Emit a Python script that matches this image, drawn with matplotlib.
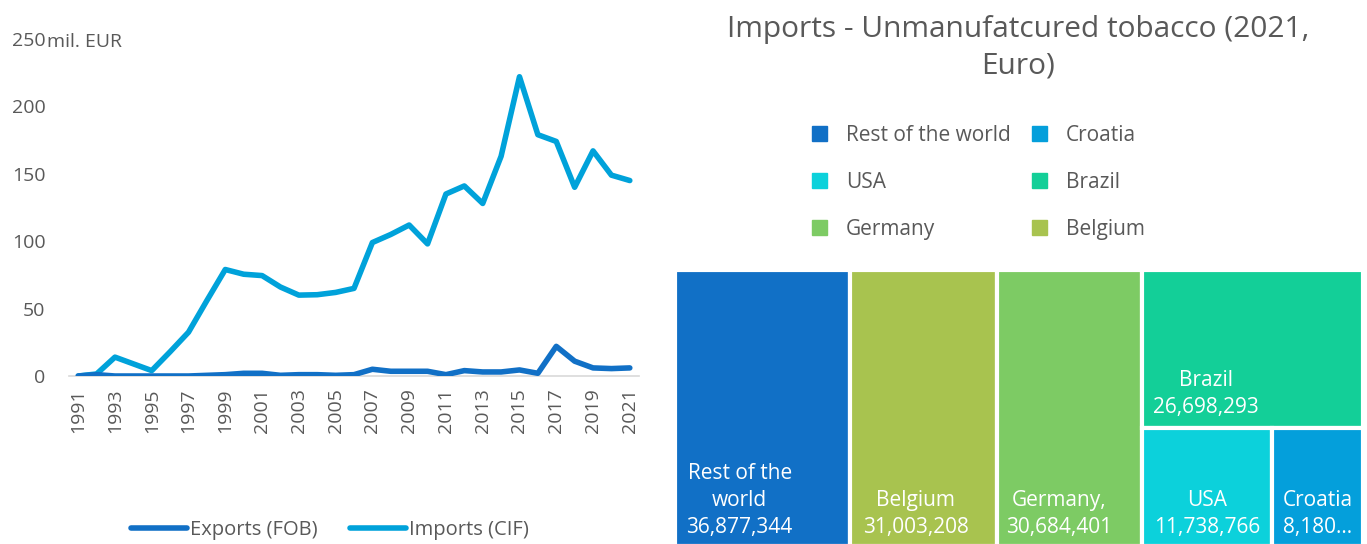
import matplotlib.pyplot as plt
from matplotlib.patches import Rectangle, Patch
from matplotlib.lines import Line2D

plt.rcParams['font.family'] = ['Open Sans', 'DejaVu Sans']

years = list(range(1991, 2022))
exports = [0, 1, 0, 0, 0, 0, 0, 0.5, 1, 2, 2, 0.5, 1, 1, 0.5, 1, 5, 3.5, 3.5, 3.5,
           1, 4, 3, 3, 4.5, 2, 22, 11, 6, 5.5, 6]
imports = [0, 1.5, 14, 9, 4, 18, 32.5, 56, 79, 75.5, 74.5, 66, 60, 60.3, 62, 65, 99,
           105, 112, 98, 135, 141, 128, 163, 222, 179, 174, 140, 167, 149, 145]

countries = ["Rest of the world", "Belgium", "Germany", "Brazil", "USA", "Croatia"]
values = [36877344, 31003208, 30684401, 26698293, 11738766, 8180000]
labels = ["Rest of the\nworld\n36,877,344", "Belgium\n31,003,208", "Germany,\n30,684,401",
          "Brazil\n26,698,293", "USA\n11,738,766", "Croatia\n8,180..."]
legend_order = ["Rest of the world", "USA", "Germany", "Croatia", "Brazil", "Belgium"]

colors = {"Rest of the world": "#1170C6", "Belgium": "#A8C34F", "Germany": "#7DCB64",
          "Brazil": "#13CF98", "USA": "#0CD1DB", "Croatia": "#049FDB"}
grey = "#595959"
W, H = 1367, 544

fig = plt.figure(figsize=(W / 100, H / 100), dpi=100)

# line chart
ax = fig.add_axes([69 / W, (H - 376) / H, 570 / W, 337 / H])
ax.plot(years, exports, color="#1170C6", lw=4, solid_capstyle="round", label="Exports (FOB)", zorder=3)
ax.plot(years, imports, color="#00A2DA", lw=4, solid_capstyle="round", label="Imports (CIF)", zorder=2)
ax.set_xlim(1990.5, 2021.5)
ax.set_ylim(0, 250)
ax.set_xticks(years[::2])
ax.set_xticklabels([str(y) for y in years[::2]], rotation=90)
ax.set_yticks(range(0, 251, 50))
ax.tick_params(length=0, labelsize=14, labelcolor=grey, pad=17)
ax.tick_params(axis="x", pad=9)
for s in ["top", "right", "left"]:
    ax.spines[s].set_visible(False)
ax.spines["bottom"].set_color("#D9D9D9")
ax.spines["bottom"].set_linewidth(1.2)
fig.text(47 / W, 1 - 42 / H, "mil. EUR", fontsize=14, color=grey, va="center", ha="left")
fig.legend(handles=[Line2D([], [], color="#1170C6", lw=4, solid_capstyle="round"),
                    Line2D([], [], color="#00A2DA", lw=4, solid_capstyle="round")],
           labels=["Exports (FOB)", "Imports (CIF)"], loc="center", ncol=2,
           bbox_to_anchor=(330 / W, 1 - 530 / H), frameon=False, fontsize=14.5,
           labelcolor=grey, handlelength=2.8, handletextpad=0.15, columnspacing=1.6)

# treemap
tx = fig.add_axes([675 / W, (H - 546) / H, 688 / W, 276 / H])
tx.set_xlim(0, 1)
tx.set_ylim(0, 1)
tx.axis("off")
total = sum(values)
rects = {}
x0 = 0
for c, v in zip(countries[:3], values[:3]):
    w = v / total
    rects[c] = (x0, 0, w, 1)
    x0 += w
rest = sum(values[3:])
wcol = rest / total
hb = values[3] / rest
rects["Brazil"] = (x0, 1 - hb, wcol, hb)
wu = wcol * values[4] / (values[4] + values[5])
rects["USA"] = (x0, 0, wu, 1 - hb)
rects["Croatia"] = (x0 + wu, 0, wcol - wu, 1 - hb)

label_xfrac = [0.37, 0.45, 0.43, 0.29, 0.5, 0.5]
for c, lab, fx in zip(countries, labels, label_xfrac):
    x, y, w, h = rects[c]
    tx.add_patch(Rectangle((x, y), w, h, facecolor=colors[c], edgecolor="white", lw=3))
    ty = y + (10 / 276 if c == "Brazil" else 8 / 276)
    tx.text(x + w * fx, ty, lab, ha="center", va="bottom", color="white",
            fontsize=15, linespacing=1.38)

fig.text(1018 / W, 1 - 48 / H, "Imports - Unmanufatcured tobacco (2021,\nEuro)",
         ha="center", va="center", fontsize=21.5, color=grey, linespacing=1.32)
fig.legend(handles=[Patch(color=colors[c]) for c in legend_order], labels=legend_order,
           loc="upper left", bbox_to_anchor=(793 / W, 1 - 106 / H), ncol=2, frameon=False,
           fontsize=15, labelcolor=grey, handlelength=0.75, handleheight=0.75,
           handletextpad=0.9, labelspacing=1.25, columnspacing=1.0)

fig.savefig("out.png", dpi=100)
